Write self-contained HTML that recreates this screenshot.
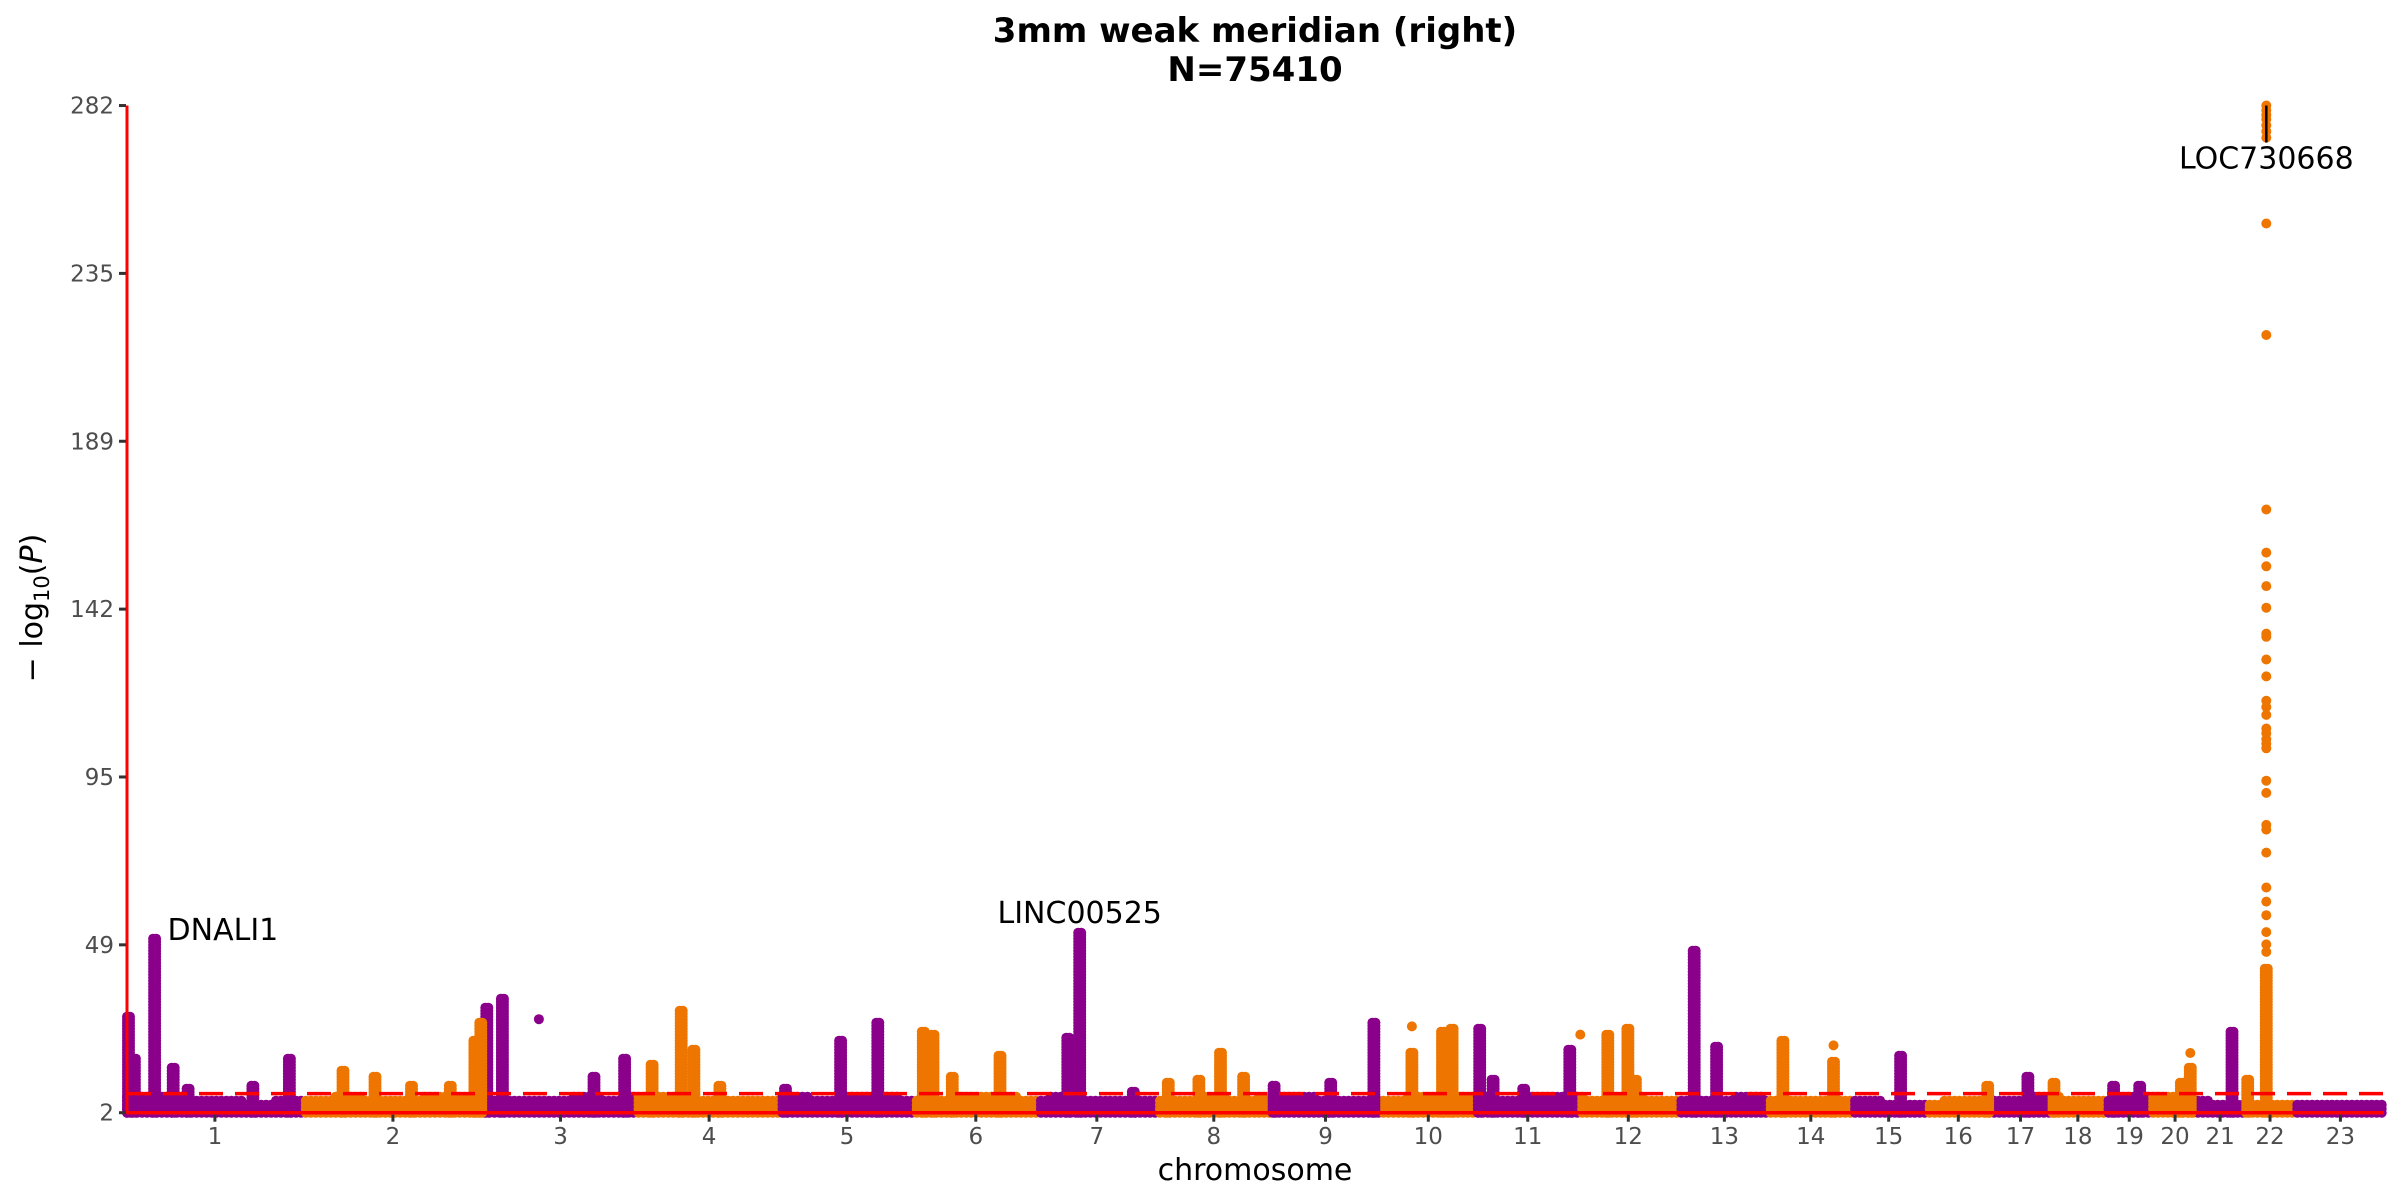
<!DOCTYPE html>
<html><head><meta charset="utf-8"><title>Manhattan plot</title>
<style>html,body{margin:0;padding:0;background:#fff;}svg{display:block;font-family:"DejaVu Sans","Liberation Sans",sans-serif;}</style>
</head><body>
<svg id="chart" width="2400" height="1200" viewBox="0 0 2400 1200" xmlns="http://www.w3.org/2000/svg">
<rect width="2400" height="1200" fill="#fff"/>
<g id="title" font-weight="bold" font-size="34" text-anchor="middle" fill="#000">
<text x="1255" y="42">3mm weak meridian (right)</text>
<text x="1255" y="81">N=75410</text>
</g>
<g id="bg"></g>
<g id="pts"></g>
<line id="thr" stroke="#ff0000" stroke-width="3.5" stroke-dasharray="24,12"/>
<g id="axes"></g>
<g id="ann" font-size="30" fill="#000"></g>
<text x="1255" y="1180" font-size="30" text-anchor="middle" fill="#000">chromosome</text>
<text transform="translate(42,608) rotate(-90)" font-size="30" text-anchor="middle" fill="#000">− log<tspan font-size="21" dy="7">10</tspan><tspan dy="-7">(</tspan><tspan font-style="italic">P</tspan>)</text>
</svg>
<script>
const chromLabels=["1","2","3","4","5","6","7","8","9","10","11","12","13","14","15","16","17","18","19","20","21","22","23"];
const chromLengths=[236,242,208,191,179,167,158,156,144,132,135,135,123,109,100,87,80,74,64,59,62,72,117];
const yTickValues=[2,48.667,95.333,142,188.667,235.333,282];
const yTickLabels=["2","49","95","142","189","235","282"];
const threshold=7.3;
const peakPos=[2,10,37,62,82,169,218,290,333,382,434,467,483,475,504,627,668,705,744,761,796,884,958,1008,1069,1082,1108,1172,1263,1279,1351,1398,1439,1468,1499,1540,1616,1674,1725,1766,1779,1816,1834,1875,1937,1988,2015,2025,2104,2134,2223,2291,2381,2498,2552,2587,2667,2702,2758,2770,2826,2847,2872];
const peakVal=[28.8,17,50.5,15.2,9.2,10,17,14.3,12.2,9.7,10,22.4,31.4,27,34,12.2,17.7,16,30.5,19.9,10,9.2,22,27,25,24,12.2,18.6,22.9,52.2,8.4,10.5,11.8,19,12.2,10,10.5,27,19.4,25,26,26,11.8,9.2,19.9,23.7,25.4,11.8,47.5,21,22.4,16.5,18.6,10,12.6,10.5,9.7,9.7,10.5,14.8,25,11.4,42.4];
const singlePos=[553,1725,1951,2291,2770];
const singleVal=[28,26,23.7,20.7,18.6];
const hitPos=2872;
const hitVal=[282,280.7,279.4,278.2,276.5,274.8,273.1,249.2,218.2,169.7,157.7,153.9,148.4,142.4,135.2,134.3,128,123.3,116.5,114.8,112.6,108.8,107.5,105.8,104.6,103.3,94.3,90.9,82,80.7,74.3,64.6,60.7,56.9,52.2,48.8,46.7];
const bgVal=[7.5,6.5,5.5,5.5,4.5,5.5,5.5,6.5,5.5,5.5,6.5,6.5,5.5,5.5,5.5,6.5,5.5,6.5,6.5,5.5,5.5,5.5,6.5,5.5,6.5,6.5,5.5,5.5,6.5,6.5,5.5,6.5,5.5,5.5,5.5,5.5,6.5,5.5,6.5,6.5,5.5,5.5,5.5,6.5,6.5,6.5,5.5,6.5,6.5,5.5,6.5,5.5,5.5,5.5,6.5,5.5,5.5,5.5,5.5,4.5,4.5,5.5,5.5,5.5,6.5,5.5,5.5,6.5,6.5,5.5,4.5,4.5,4.5,4.5,4.5,4.5];
const bgStep=40;
const annLabels=["DNALI1","LINC00525","LOC730668"];
const annPos=[37,1279,2872];
const annVal=[50.5,52.2,282];

const NS="http://www.w3.org/2000/svg";
const X0=127,X1=2384,Y0=1112.7,PXU=3.597;
const total=chromLengths.reduce((a,b)=>a+b,0);
const starts=[];let acc=0;for(const l of chromLengths){starts.push(acc);acc+=l;}
function xs(p){return X0+p/total*(X1-X0);}
function ys(v){return Y0-(v-2)*PXU;}
function chromOf(p){for(let i=chromLengths.length-1;i>=0;i--){if(p>=starts[i])return i;}return 0;}
function col(p){return chromOf(p)%2===0?"#8B008B":"#EE7600";}
function el(tag,attrs,parent){const e=document.createElementNS(NS,tag);for(const k in attrs)e.setAttribute(k,attrs[k]);parent.appendChild(e);return e;}
const bg=document.getElementById("bg"),pts=document.getElementById("pts"),axes=document.getElementById("axes"),ann=document.getElementById("ann");
const R=5;
bgVal.forEach((v,i)=>{
  const p0=i*bgStep,p1=Math.min(total,p0+bgStep);
  for(let x=xs(p0);x<xs(p1);x+=5){
    const p=(x-X0)/(X1-X0)*total;
    const c=col(p);
    for(let y=Y0;y>=ys(v);y-=4){
      const d=el("circle",{cx:x.toFixed(1),cy:y.toFixed(1),r:R,fill:c},bg);
      
      
    }
  }
});
peakPos.forEach((p,i)=>{
  const c=col(p);
  [-1.5,1.5].forEach(off=>{
    const x=xs(p)+off;
    for(let y=Y0;y>=ys(peakVal[i])-0.1;y-=3){
      const d=el("circle",{cx:x.toFixed(1),cy:y.toFixed(1),r:R,fill:c},pts);
      
      
    }
  });
});
singlePos.forEach((p,i)=>{
  const d=el("circle",{cx:xs(p).toFixed(1),cy:ys(singleVal[i]).toFixed(1),r:R,fill:col(p)},pts);
  
  
});
hitVal.forEach(v=>{
  const d=el("circle",{cx:xs(hitPos).toFixed(1),cy:ys(v).toFixed(1),r:R,fill:col(hitPos)},pts);
  
  
});
const thr=document.getElementById("thr");
thr.setAttribute("x1",X0);thr.setAttribute("x2",X1);thr.setAttribute("y1",ys(threshold));thr.setAttribute("y2",ys(threshold));
const yAx=el("line",{x1:X0,x2:X0,y1:ys(282),y2:Y0+1.5,stroke:"#ff0000","stroke-width":3},axes);

const xAx=el("line",{x1:X0,x2:X1,y1:Y0,y2:Y0,stroke:"#ff0000","stroke-width":3.5},axes);

yTickValues.forEach((v,i)=>{
  const y=ys(v);
  const t=el("line",{x1:X0-8,x2:X0-1,y1:y,y2:y,stroke:"#333","stroke-width":3},axes);
  
  const tx=el("text",{x:X0-13,y:y+8,"font-size":23,fill:"#4d4d4d","text-anchor":"end"},axes);
  tx.textContent=yTickLabels[i];
  
});
chromLabels.forEach((lab,i)=>{
  const x=xs(starts[i]+chromLengths[i]/2);
  const t=el("line",{x1:x,x2:x,y1:Y0+2,y2:Y0+9,stroke:"#333","stroke-width":3},axes);
  
  const tx=el("text",{x:x,y:1144,"font-size":23,fill:"#4d4d4d","text-anchor":"middle"},axes);
  tx.textContent=lab;
  
});
const a1=el("text",{x:xs(annPos[0])+13,y:ys(annVal[0])+2},ann);a1.textContent=annLabels[0];

const a2=el("text",{x:xs(annPos[1]),y:ys(annVal[1])-9,"text-anchor":"middle"},ann);a2.textContent=annLabels[1];

const seg=el("line",{x1:xs(annPos[2]),x2:xs(annPos[2]),y1:ys(annVal[2]),y2:ys(annVal[2])+37,stroke:"#000","stroke-width":2.5},ann);

const a3=el("text",{x:xs(annPos[2]),y:ys(annVal[2])+63,"text-anchor":"middle"},ann);a3.textContent=annLabels[2];

</script>
</body></html>
